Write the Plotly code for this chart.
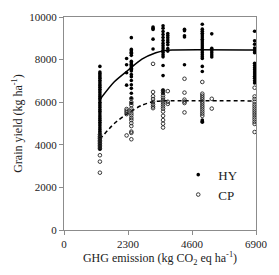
import plotly.graph_objects as go

# ---- data ----
# HY (filled) grain yield by GHG emission column
hy_1290 = [7680, 7420, 7350, 7280, 7200, 7120, 7030, 6950, 6860, 6780, 6700, 6610, 6520, 6440,
           6350, 6270, 6180, 6100, 6000, 5920, 5830, 5750, 5660, 5580, 5490, 5400, 5320, 5230,
           5150, 5060, 4980, 4890, 4800, 4720, 4630, 4550, 4460, 4380, 4290, 4200, 4110, 4030,
           3950, 3860, 3790]
hy_2250 = [8050, 7760, 7380, 6800]
hy_2420 = [9030, 8480, 8420, 8350, 8300, 8200, 7920, 7850, 7780, 7720, 7650, 7590, 7530, 7470,
           7300, 7200, 7020, 6820, 6650, 6420, 6200, 5950]
hy_3200 = [9530, 9470, 9410, 8960, 8500]
hy_3560 = [9590, 9470, 9320, 9180, 9040, 8900, 8760, 8650, 8540, 8440, 8330, 8230, 8130, 7720,
           7250, 6550, 6420]
hy_3730 = [9220, 9130, 9030, 8920, 8820, 8700, 8520, 8400]
hy_4330 = [9420, 9360, 9120, 9060, 7760]
hy_4970 = [9660, 9430, 9330, 9240, 9150, 9060, 8960, 8870, 8780, 8680, 8590, 8500, 8410, 8320,
           8230, 8130, 8050, 7680, 7440, 5160, 5110, 5060]
hy_5310 = [9210, 8530, 8420, 8320, 8220, 8120]
hy_6850 = [9330, 8880, 8720, 8540, 8420, 8320, 7830, 7720, 7620, 7520, 7420, 7320, 7220, 7120,
           7010, 6900]

# CP (open) grain yield by GHG emission column
cp_1290 = [4480, 4380, 4300, 4210, 4140, 4060, 3980, 3900, 3820, 3510, 3210, 2690]
cp_2250 = [5680, 5600, 5520, 5440, 4440]
cp_2420 = [6170, 6000, 5860, 5700, 5600, 5480, 5380, 5260, 5160, 5020, 4880, 4620, 4560, 4260]
cp_3200 = [7800, 6480, 6280, 6150, 6020, 5900, 5800, 5720]
cp_3560 = [6560, 6460, 6320, 6210, 6100, 6000, 5900, 5800, 5700, 5560, 5360, 5160, 4990, 4810]
cp_3730 = [6520, 6020, 5920]
cp_4330 = [7100, 6450, 6120, 6030, 5960, 5520]
cp_4970 = [6950, 6400, 6310, 6220, 6130, 6040, 5950, 5850, 5760, 5660, 5560, 5460, 5360]
cp_5310 = [6160, 5700]
cp_6850 = [6680, 6270, 6150, 6020, 5900, 5800, 5700, 5600, 5500, 5400, 5290, 5190, 5080, 4980,
           4600]

hy_columns = [1290, 2250, 2420, 3200, 3560, 3730, 4330, 4970, 5310, 6850]
hy_values = [hy_1290, hy_2250, hy_2420, hy_3200, hy_3560, hy_3730, hy_4330, hy_4970, hy_5310, hy_6850]
cp_columns = [1290, 2250, 2420, 3200, 3560, 3730, 4330, 4970, 5310, 6850]
cp_values = [cp_1290, cp_2250, cp_2420, cp_3200, cp_3560, cp_3730, cp_4330, cp_4970, cp_5310, cp_6850]

# fitted (quadratic-plateau) curves
hy_curve_x = [1290, 1800, 2300, 2800, 3300, 3600, 3900, 6850]
hy_curve_y = [6130, 6950, 7500, 8020, 8320, 8420, 8450, 8450]
cp_curve_x = [1290, 1800, 2300, 2800, 3200, 3500, 6850]
cp_curve_y = [4260, 4990, 5480, 5860, 6020, 6060, 6060]

x_ticks = [0, 2300, 4600, 6900]
y_ticks = [0, 2000, 4000, 6000, 8000, 10000]

# ---- build ----
hy_x = [c for c, vals in zip(hy_columns, hy_values) for _ in vals]
hy_y = [v for vals in hy_values for v in vals]
cp_x = [c for c, vals in zip(cp_columns, cp_values) for _ in vals]
cp_y = [v for vals in cp_values for v in vals]

FONT = "Liberation Serif"

fig = go.Figure()
fig.add_trace(go.Scatter(x=hy_curve_x, y=hy_curve_y, mode="lines", showlegend=False,
                         line=dict(color="black", width=1.5, shape="spline", smoothing=0.7),
                         hoverinfo="skip"))
fig.add_trace(go.Scatter(x=cp_curve_x, y=cp_curve_y, mode="lines", showlegend=False,
                         line=dict(color="black", width=1.5, dash="4px,3px", shape="spline", smoothing=0.7),
                         hoverinfo="skip"))
fig.add_trace(go.Scatter(x=hy_x, y=hy_y, mode="markers", name="HY",
                         marker=dict(symbol="circle", size=3.6, color="black",
                                     line=dict(width=0))))
fig.add_trace(go.Scatter(x=cp_x, y=cp_y, mode="markers", name="CP",
                         marker=dict(symbol="circle-open", size=3.6, color="#222",
                                     line=dict(width=0.9))))

axis_common = dict(showline=True, linecolor="#8c8c8c", linewidth=1, mirror=True,
                   ticks="outside", ticklen=4, tickcolor="#8c8c8c", tickwidth=1,
                   showgrid=False, zeroline=False,
                   tickfont=dict(family=FONT, size=11, color="#222"))

fig.update_layout(
    width=279, height=275,
    margin=dict(l=64, r=13, t=11, b=45),
    paper_bgcolor="white", plot_bgcolor="white",
    font=dict(family=FONT, size=11, color="#222"),
    xaxis=dict(range=[0, 6900], tickvals=x_ticks, ticktext=[str(t) for t in x_ticks],
               title=dict(text="GHG emission (kg CO<sub>2</sub> eq ha<sup>-1</sup>)",
                          font=dict(family=FONT, size=12, color="#222"), standoff=2),
               **axis_common),
    yaxis=dict(range=[0, 10000], tickvals=y_ticks, ticktext=[str(t) for t in y_ticks],
               title=dict(text="Grain yield (kg ha<sup>-1</sup>)",
                          font=dict(family=FONT, size=12, color="#222"), standoff=4),
               **axis_common),
    legend=dict(x=0.595, y=0.33, xanchor="left", yanchor="top",
                bgcolor="rgba(0,0,0,0)", font=dict(family=FONT, size=13, color="#222"),
                itemwidth=30, tracegroupgap=0),
    showlegend=True,
)

fig.write_html("out.html",
               config={"displayModeBar": False},
               post_script="document.body.style.margin='0';document.body.style.padding='0';")
